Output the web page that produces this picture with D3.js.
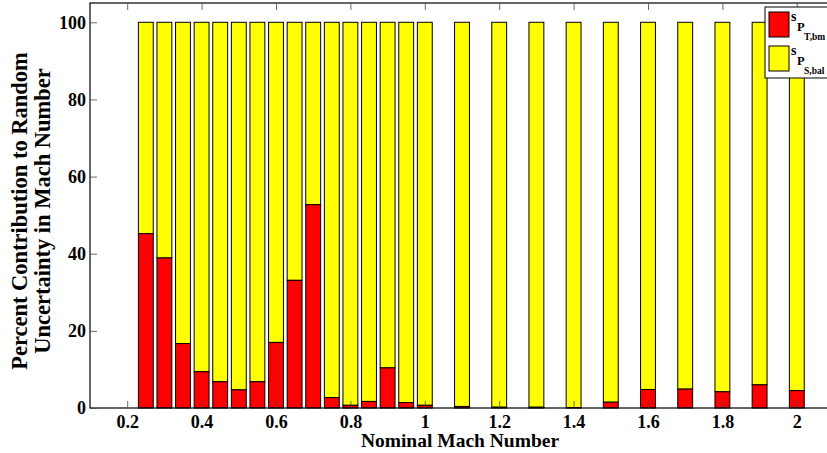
<!DOCTYPE html>
<html>
<head>
<meta charset="utf-8">
<style>
  body { margin: 0; background: #fff; }
  svg text { font-family: "Liberation Serif", "Times New Roman", serif; font-weight: bold; fill: #000; }
</style>
</head>
<body>
<svg id="draw"></svg>
<script src="https://cdn.jsdelivr.net/npm/d3@7/dist/d3.min.js"></script>
<script>
    var width = 827;
    var height = 453;

    // nominal Mach numbers of the runs
    var mach = [0.25, 0.3, 0.35, 0.4, 0.45, 0.5, 0.55, 0.6, 0.65, 0.7, 0.75, 0.8, 0.85, 0.9, 0.95, 1.0,
                1.1, 1.2, 1.3, 1.4, 1.5, 1.6, 1.7, 1.8, 1.9, 2.0];
    // percent contribution of s_P_T,bm (red)
    var sPT = [45.2, 38.9, 16.7, 9.4, 6.8, 4.7, 6.8, 17.0, 33.1, 52.7, 2.7, 0.7, 1.7, 10.4, 1.4, 0.7,
               0.4, 0.2, 0.2, 0.1, 1.5, 4.8, 4.9, 4.2, 6.0, 4.5];
    // percent contribution of s_P_S,bal (yellow)
    var sPS = [54.8, 61.1, 83.3, 90.6, 93.2, 95.3, 93.2, 83.0, 66.9, 47.3, 97.3, 99.3, 98.3, 89.6, 98.6, 99.3,
               99.6, 99.8, 99.8, 99.9, 98.5, 95.2, 95.1, 95.8, 94.0, 95.5];
    var xTicks = [0.2, 0.4, 0.6, 0.8, 1.0, 1.2, 1.4, 1.6, 1.8, 2.0];
    var yTicks = [0, 20, 40, 60, 80, 100];

    // plot box (right edge runs past the window, like the original)
    var pL = 90, pR = 834, pT = 3, pB = 408;
    var tickLen = 7;

    var x = d3.scaleLinear().domain([0.1, 2.1]).range([pL, pR]);
    var y = d3.scaleLinear().domain([0, 105]).range([pB, pT]);
    var barW = x(0.14) - x(0.1);

    const svg = d3.select("svg#draw")
      .attr("width", width)
      .attr("height", height);

    var rows = mach.map((m, i) => ({m: m, a: sPT[i], b: sPS[i]}));

    var bars = svg.append("g");
    // yellow part stacked on top of red
    bars.selectAll("rect.ps")
      .data(rows)
      .enter().append("rect")
        .attr("class", "ps")
        .attr("x", d => x(d.m) - barW / 2)
        .attr("width", barW)
        .attr("y", d => y(d.a + d.b))
        .attr("height", d => y(d.a) - y(d.a + d.b))
        .attr("fill", "#ffff00")
        .attr("stroke", "#000")
        .attr("stroke-width", 1);
    bars.selectAll("rect.pt")
      .data(rows)
      .enter().append("rect")
        .attr("class", "pt")
        .attr("x", d => x(d.m) - barW / 2)
        .attr("width", barW)
        .attr("y", d => y(d.a))
        .attr("height", d => y(0) - y(d.a))
        .attr("fill", "#ff0000")
        .attr("stroke", "#000")
        .attr("stroke-width", 1);

    // axes box, matlab style ticks pointing inward
    var ax = svg.append("g");
    ax.append("rect")
      .attr("x", pL).attr("y", pT)
      .attr("width", pR - pL).attr("height", pB - pT)
      .attr("fill", "none").attr("stroke", "#000").attr("stroke-width", 1.2);

    ax.append("g")
      .attr("transform", `translate(0,${pB})`)
      .call(d3.axisBottom(x).tickValues(xTicks).tickSizeInner(-tickLen).tickSizeOuter(0).tickPadding(7)
            .tickFormat(d => String(+d.toFixed(1))))
      .call(g => g.select(".domain").remove())
      .call(g => g.selectAll("line").attr("stroke", "#444").attr("stroke-width", 0.8))
      .call(g => g.selectAll("text").attr("font-size", 18).style("font-family", "Liberation Serif"));
    ax.append("g")
      .attr("transform", `translate(0,${pT})`)
      .call(d3.axisTop(x).tickValues(xTicks).tickSizeInner(-tickLen).tickSizeOuter(0).tickFormat(""))
      .call(g => g.select(".domain").remove())
      .call(g => g.selectAll("line").attr("stroke", "#444").attr("stroke-width", 0.8));
    ax.append("g")
      .attr("transform", `translate(${pL},0)`)
      .call(d3.axisLeft(y).tickValues(yTicks).tickSizeInner(-tickLen).tickSizeOuter(0).tickPadding(4))
      .call(g => g.select(".domain").remove())
      .call(g => g.selectAll("line").attr("stroke", "#444").attr("stroke-width", 0.8))
      .call(g => g.selectAll("text").attr("font-size", 18).style("font-family", "Liberation Serif"));
    ax.append("g")
      .attr("transform", `translate(${pR},0)`)
      .call(d3.axisRight(y).tickValues(yTicks).tickSizeInner(-tickLen).tickSizeOuter(0).tickFormat(""))
      .call(g => g.select(".domain").remove())
      .call(g => g.selectAll("line").attr("stroke", "#444").attr("stroke-width", 0.8));

    // axis titles
    svg.append("text")
      .attr("x", 460)
      .attr("y", 447)
      .attr("text-anchor", "middle")
      .attr("font-size", 19.5)
      .text("Nominal Mach Number");

    var yl = svg.append("text")
      .attr("transform", `translate(0,211) rotate(-90)`)
      .attr("text-anchor", "middle")
      .attr("font-size", 22.5);
    yl.append("tspan").attr("x", 0).attr("y", 27).text("Percent Contribution to Random");
    yl.append("tspan").attr("x", 0).attr("y", 50).text("Uncertainty in Mach Number");

    // legend (runs off the right edge)
    var leg = svg.append("g");
    leg.append("rect")
      .attr("x", 765).attr("y", 7).attr("width", 90).attr("height", 71)
      .attr("fill", "#fff").attr("stroke", "#000").attr("stroke-width", 1);
    var items = [{c: "#ff0000", sub: "T,bm"}, {c: "#ffff00", sub: "S,bal"}];
    items.forEach((it, i) => {
        var oy = 12 + i * 34;
        leg.append("rect")
          .attr("x", 769).attr("y", oy).attr("width", 20).attr("height", 25)
          .attr("fill", it.c).attr("stroke", "#000").attr("stroke-width", 1);
        leg.append("text").attr("x", 791).attr("y", oy + 9).attr("font-size", 14).text("s");
        leg.append("text").attr("x", 797).attr("y", oy + 18.5).attr("font-size", 12.5).text("P");
        leg.append("text").attr("x", 804).attr("y", oy + 27.5).attr("font-size", 9.5).text(it.sub);
    });
</script>
</body>
</html>
